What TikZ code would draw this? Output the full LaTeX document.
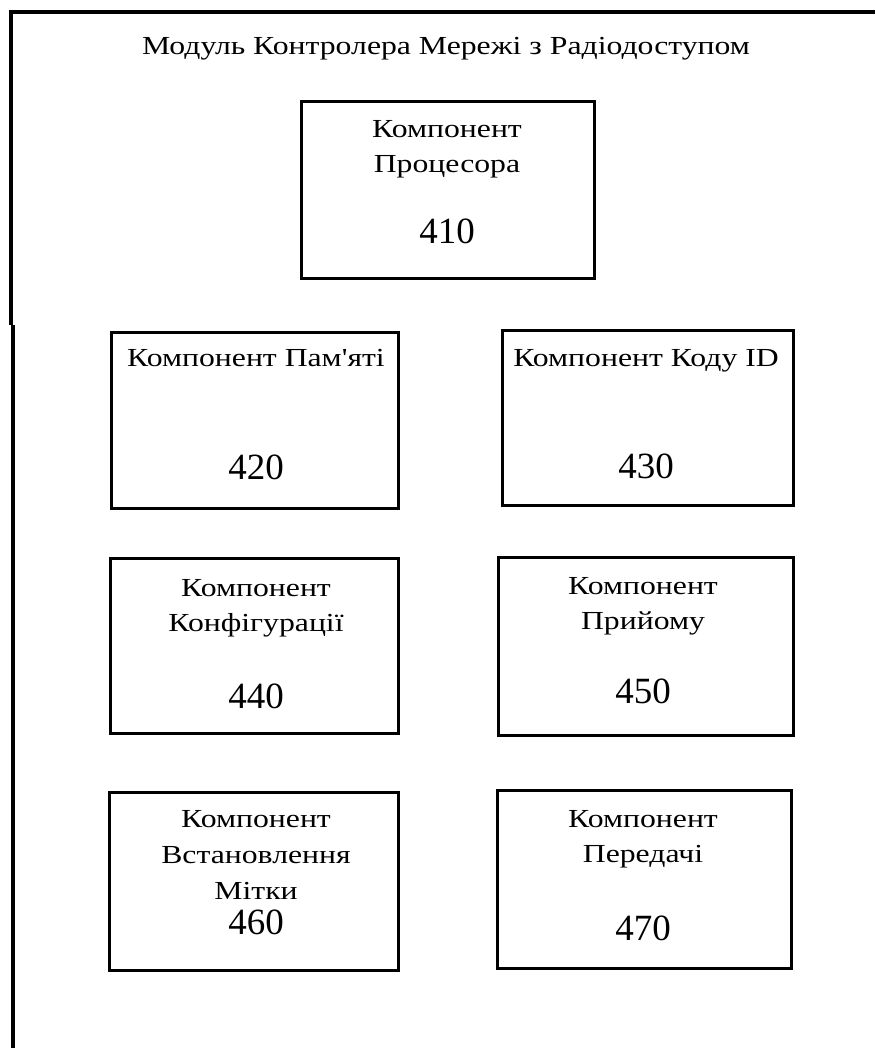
\documentclass[tikz,border=0pt]{standalone}
\usepackage{fontspec}
\setmainfont{Liberation Serif}
\newfontfamily\lblfont[FakeStretch=1.22]{Liberation Serif}
\newfontfamily\numfont[FakeStretch=1.0]{Liberation Serif}
\begin{document}
\begin{tikzpicture}[x=1pt,y=-1pt,
  box/.style={draw,line width=3pt,inner sep=0pt},
  lab/.style={anchor=base,inner sep=0pt,font=\fontsize{26}{30}\lblfont},
  num/.style={anchor=base,inner sep=0pt,font=\fontsize{37}{40}\numfont},
  frame/.style={line width=4pt}]
\useasboundingbox (0,0) rectangle (875,1048);
% outer frame
\coordinate (fa) at (10.5,10);
\coordinate (fb) at (10.5,325);
\coordinate (fc) at (12.5,325);
\coordinate (fd) at (12.5,1048);
\coordinate (fe) at (8.5,12);
\coordinate (ff) at (875,12);
\draw[frame] (fe) -- (ff);
\draw[frame] (fa) -- (fb);
\draw[frame] (fc) -- (fd);
% title
\node[lab] (title) at (446,55) {Модуль Контролера Мережі з Радіодоступом};
% boxes
\node[box,minimum width=293pt,minimum height=177pt] (b410) at (447.5,190.5) {};
\node[box,minimum width=287pt,minimum height=176pt] (b420) at (254.5,420) {};
\node[box,minimum width=291pt,minimum height=175pt] (b430) at (647.5,417.5) {};
\node[box,minimum width=288pt,minimum height=175pt] (b440) at (254,645.5) {};
\node[box,minimum width=295pt,minimum height=178pt] (b450) at (645.5,646) {};
\node[box,minimum width=289pt,minimum height=178pt] (b460) at (253.5,881) {};
\node[box,minimum width=294pt,minimum height=178pt] (b470) at (644,879) {};
% texts
\node[lab] (t410a) at (447,138) {Компонент};
\node[lab] (t410b) at (447,173) {Процесора};
\node[num] (n410) at (447,244) {410};
\node[lab] (t420a) at (256,366) {Компонент Пам'яті};
\node[num] (n420) at (256,479) {420};
\node[lab] (t430a) at (646,366) {Компонент Коду ID};
\node[num] (n430) at (646,478) {430};
\node[lab] (t440a) at (256,596) {Компонент};
\node[lab] (t440b) at (256,631) {Конфігурації};
\node[num] (n440) at (256,708) {440};
\node[lab] (t450a) at (643,594) {Компонент};
\node[lab] (t450b) at (643,629) {Прийому};
\node[num] (n450) at (643,703) {450};
\node[lab] (t460a) at (256,827) {Компонент};
\node[lab] (t460b) at (256,863) {Встановлення};
\node[lab] (t460c) at (256,899) {Мітки};
\node[num] (n460) at (256,934) {460};
\node[lab] (t470a) at (643,827) {Компонент};
\node[lab] (t470b) at (643,862) {Передачі};
\node[num] (n470) at (643,940) {470};
\end{tikzpicture}
\end{document}
